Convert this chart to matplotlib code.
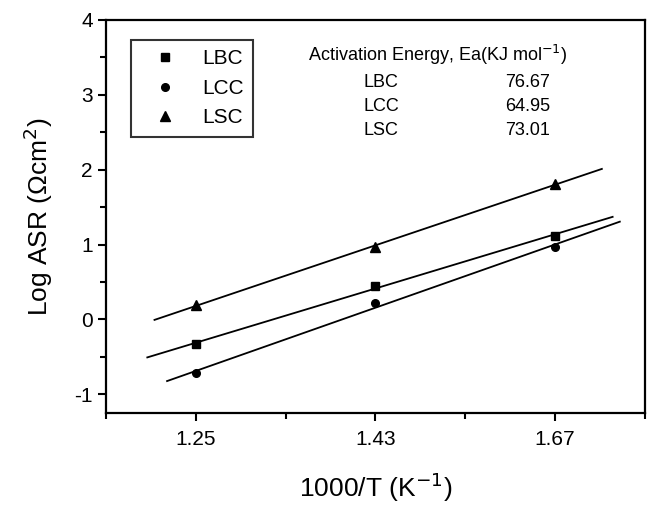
import numpy as np
import matplotlib.pyplot as plt
from matplotlib.ticker import MultipleLocator

plt.rcParams['font.family'] = ['Liberation Sans', 'DejaVu Sans']
plt.rcParams['axes.unicode_minus'] = False

x_labels = ['1.25', '1.43', '1.67']
lbc = [-0.33, 0.45, 1.12]
lcc = [-0.72, 0.22, 0.97]
lsc = [0.19, 0.97, 1.81]
ea_names = ['LBC', 'LCC', 'LSC']
ea_values = ['76.67', '64.95', '73.01']

pos = np.arange(len(x_labels))

fig = plt.figure(figsize=(6.49, 5.05), dpi=100)
ax = fig.add_axes([0.1633, 0.1822, 0.8305, 0.7782])

series = [
    ('LBC', lbc, 's', 5.5, (-0.27, 2.32)),
    ('LCC', lcc, 'o', 5.5, (-0.16, 2.36)),
    ('LSC', lsc, '^', 7.5, (-0.23, 2.26)),
]
handles = []
for name, y, mk, ms, span in series:
    h, = ax.plot(pos, y, linestyle='none', marker=mk, ms=ms, color='black', label=name)
    handles.append(h)
    k, b = np.polyfit(pos, y, 1)
    xs = np.array(span)
    ax.plot(xs, k * xs + b, color='black', lw=1.3)

ax.set_xlim(-0.5, 2.5)
ax.set_ylim(-1.25, 4)
ax.set_xticks(pos)
ax.set_xticklabels(x_labels)
ax.xaxis.set_minor_locator(MultipleLocator(0.5))
ax.yaxis.set_major_locator(MultipleLocator(1))
ax.yaxis.set_minor_locator(MultipleLocator(0.5))
ax.tick_params(axis='both', which='major', direction='out', length=6, width=1.5,
               labelsize=15, top=False, right=False)
ax.tick_params(axis='x', which='major', pad=6)
ax.tick_params(axis='both', which='minor', direction='out', length=4, width=1.5,
               top=False, right=False)
for s in ax.spines.values():
    s.set_linewidth(1.6)

ax.set_xlabel('1000/T (K$^{-1}$)', fontsize=19, labelpad=16)
ax.set_ylabel('Log ASR (Ωcm$^{2}$)', fontsize=19, labelpad=14)

leg = ax.legend(handles=handles, loc='upper left', bbox_to_anchor=(0.0464, 0.949),
                fontsize=15, frameon=True, fancybox=False, edgecolor='black',
                handletextpad=0.6, borderpad=0.45, labelspacing=0.5,
                handlelength=2.35, borderaxespad=0)
leg.get_frame().set_linewidth(1.5)

ax.text(0.375, 0.911, 'Activation Energy, Ea(KJ mol$^{-1}$)', transform=ax.transAxes,
        fontsize=13, va='center', ha='left')
for i, (n, v) in enumerate(zip(ea_names, ea_values)):
    yy = 0.840 - i * 0.06
    ax.text(0.477, yy, n, transform=ax.transAxes, fontsize=13, va='center', ha='left')
    ax.text(0.74, yy, v, transform=ax.transAxes, fontsize=13, va='center', ha='left')

fig.savefig('out.png', dpi=100)
